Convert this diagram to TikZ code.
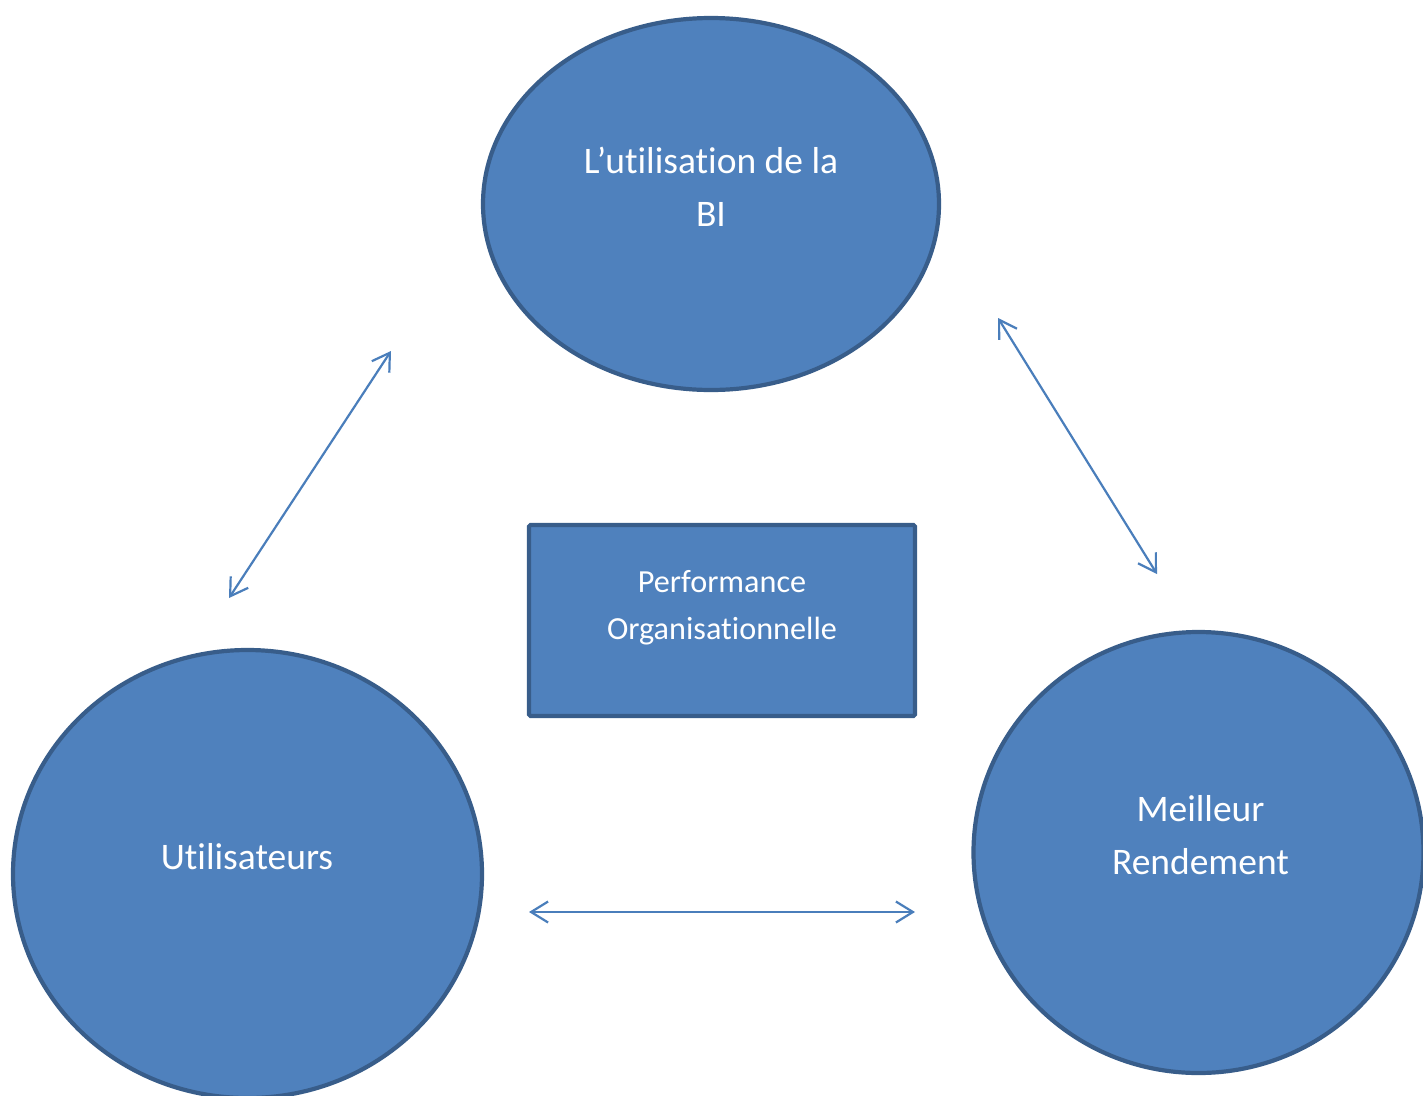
\documentclass[tikz,border=0pt]{standalone}
\usepackage{fontspec}
\setmainfont{Carlito}[Ligatures={NoCommon,NoContextual}]
\usetikzlibrary{shapes.geometric,arrows.meta}

\definecolor{bubblefill}{HTML}{4F81BD}
\definecolor{bubbleedge}{HTML}{385D8A}
\definecolor{linkblue}{HTML}{4A7EBB}

\tikzset{
  bubble/.style={ellipse, draw=bubbleedge, fill=bubblefill, line width=4.2pt, inner sep=0pt},
  centrebox/.style={rectangle, draw=bubbleedge, fill=bubblefill, line width=4.2pt, inner sep=0pt,
    rounded corners=1.5pt},
  % multi-line labels are placed by the baseline of their last line
  bigtext/.style={text=white, align=center, anchor=base,
    font=\fontsize{37.5}{53}\selectfont},
  smalltext/.style={text=white, align=center, anchor=base,
    font=\fontsize{32.2}{47}\selectfont},
  link/.style={draw=linkblue, line width=2.2pt,
    {Straight Barb[length=17pt,width=21pt]}-{Straight Barb[length=17pt,width=21pt]}}
}

\begin{document}
\begin{tikzpicture}[x=1pt,y=-1pt]
  \useasboundingbox (0,0) rectangle (1423,1095);
  \clip (0,0) rectangle (1423,1095);

  % the three bubbles and the central box
  \node[bubble, minimum width=456pt, minimum height=372pt] (bi) at (711,204) {};
  \node[bubble, minimum width=469pt, minimum height=448pt] (users) at (247.5,874) {};
  \node[bubble, minimum width=450pt, minimum height=441pt] (yield) at (1198.5,852.5) {};
  \node[centrebox, minimum width=386pt, minimum height=191pt] (perf) at (722,620.5) {};

  % labels
  \node[bigtext] (biText) at (711,226) {L’utilisation de la\\BI};
  \node[bigtext] (usersText) at (247,869) {Utilisateurs};
  \node[bigtext] (yieldText) at (1200.5,874) {Meilleur\\Rendement};
  \node[smalltext] (perfText) at (722,639) {Performance\\Organisationnelle};

  % two-way links between the bubbles
  \coordinate (uA) at (229,598);
  \coordinate (uB) at (391,351);
  \coordinate (yA) at (998,318);
  \coordinate (yB) at (1157,574);
  \coordinate (hA) at (529,912);
  \coordinate (hB) at (915,912);
  \draw[link] (uA) -- (uB);
  \draw[link] (yA) -- (yB);
  \draw[link] (hA) -- (hB);
\end{tikzpicture}
\end{document}
